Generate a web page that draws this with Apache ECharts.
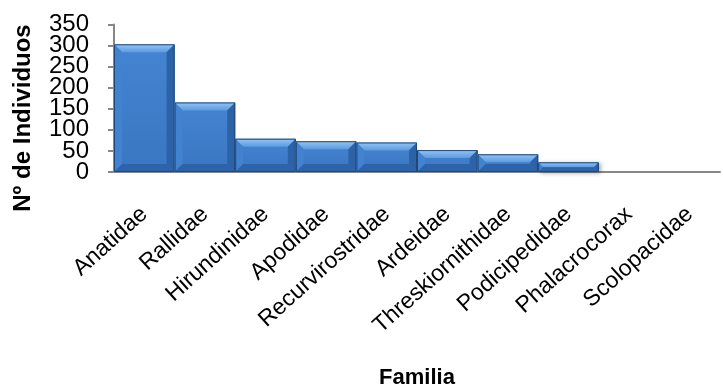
<!DOCTYPE html>
<html>
<head>
<meta charset="utf-8">
<script src="https://cdn.jsdelivr.net/npm/echarts@6/dist/echarts.min.js"></script>
<style>
html,body{margin:0;padding:0;background:#fff;}
#chart{width:723px;height:390px;}
</style>
</head>
<body>
<div id="chart"></div>
<script>
const categories = ["Anatidae","Rallidae","Hirundinidae","Apodidae","Recurvirostridae","Ardeidae","Threskiornithidae","Podicipedidae","Phalacrocorax","Scolopacidae"];
const values = [303, 165, 79, 73, 70, 52, 42, 23, 0, 0];
const yTicks = [0, 50, 100, 150, 200, 250, 300, 350];
const yTitle = "Nº de Individuos";
const xTitle = "Familia";

const chart = echarts.init(document.getElementById('chart'));
const FONT = '"Liberation Sans", Arial, sans-serif';

function renderBar(params, api) {
  const idx = api.value(0), v = api.value(1);
  const top = api.coord([idx, v]);
  const base = api.coord([idx, 0]);
  const w = api.size([1, 0])[0];
  const x0 = base[0] - w / 2, x1 = base[0] + w / 2;
  const y0 = top[1], y1 = base[1];
  const h = y1 - y0;
  if (h <= 0.5) return null;
  const b = Math.min(8, h / 2, w / 2);
  return {
    type: 'group',
    children: [
      { type: 'rect', shape: { x: x0, y: y0, width: w, height: h },
        style: { fill: new echarts.graphic.LinearGradient(0, 0, 0, 1, [
          { offset: 0, color: '#4584d1' }, { offset: 1, color: '#3a76c2' }]),
          shadowColor: 'rgba(0,0,0,0.35)', shadowBlur: 4, shadowOffsetX: 2, shadowOffsetY: 1 } },
      { type: 'polygon', shape: { points: [[x0, y0], [x1, y0], [x1 - b, y0 + b], [x0 + b, y0 + b]] },
        style: { fill: new echarts.graphic.LinearGradient(0, 0, 0, 1, [
          { offset: 0, color: '#94c6f6' }, { offset: 1, color: '#5c9ae2' }]) } },
      { type: 'polygon', shape: { points: [[x0, y0], [x0 + b, y0 + b], [x0 + b, y1 - b], [x0, y1]] },
        style: { fill: '#4282cf' } },
      { type: 'polygon', shape: { points: [[x1, y0], [x1 - b, y0 + b], [x1 - b, y1 - b], [x1, y1]] },
        style: { fill: '#2c62a6' } },
      { type: 'polygon', shape: { points: [[x0, y1], [x0 + b, y1 - b], [x1 - b, y1 - b], [x1, y1]] },
        style: { fill: '#2d64a9' } },
      { type: 'rect', shape: { x: x0 + 0.5, y: y0 + 0.5, width: w - 1, height: h - 1 },
        style: { fill: null, stroke: '#1f4878', lineWidth: 1 } }
    ]
  };
}

chart.setOption({
  animation: false,
  grid: { left: 114, right: 3, top: 24.5, bottom: 218, containLabel: false },
  xAxis: {
    type: 'category',
    data: categories,
    axisLine: { show: true, lineStyle: { color: '#878787', width: 2 } },
    axisTick: { show: false },
    axisLabel: { rotate: 42, margin: 39, interval: 0, hideOverlap: false,
      fontFamily: FONT, fontSize: 23, color: '#000' },
    splitLine: { show: false }
  },
  yAxis: {
    type: 'value',
    min: yTicks[0], max: yTicks[yTicks.length - 1], interval: 50,
    axisLine: { show: true, lineStyle: { color: '#878787', width: 2 } },
    axisTick: { show: true, inside: false, length: 6, lineStyle: { color: '#878787', width: 2 } },
    axisLabel: { show: false },
    splitLine: { show: false }
  },
  series: [{
    type: 'custom',
    renderItem: renderBar,
    encode: { x: 0, y: 1 },
    data: values.map((v, i) => [i, v]),
    z: 1
  }]
});

// y tick labels placed through the axis scale (all shown, like the original, even though they touch)
const axisX = chart.convertToPixel({ xAxisIndex: 0 }, 0) - chart.convertToPixel({ xAxisIndex: 0 }, 0); // unused helper
const leftEdge = chart.convertToPixel({ gridIndex: 0 }, [0, 0]);
const gridLeft = leftEdge[0] - (chart.getModel().getComponent('xAxis', 0).axis.getBandWidth() / 2);
const labelGraphics = yTicks.map(t => ({
  type: 'text',
  x: gridLeft - 25,
  y: chart.convertToPixel({ yAxisIndex: 0 }, t),
  style: { text: String(t), font: '24px ' + FONT, fill: '#000', align: 'right', verticalAlign: 'middle' }
}));

chart.setOption({
  graphic: labelGraphics.concat([
    { type: 'text', x: 23, y: 118, rotation: Math.PI / 2,
      style: { text: yTitle, font: 'bold 24px ' + FONT, fill: '#000', align: 'center', verticalAlign: 'middle' } },
    { type: 'text', x: 417, y: 378,
      style: { text: xTitle, font: 'bold 22px ' + FONT, fill: '#000', align: 'center', verticalAlign: 'middle' } }
  ])
});
</script>
</body>
</html>
